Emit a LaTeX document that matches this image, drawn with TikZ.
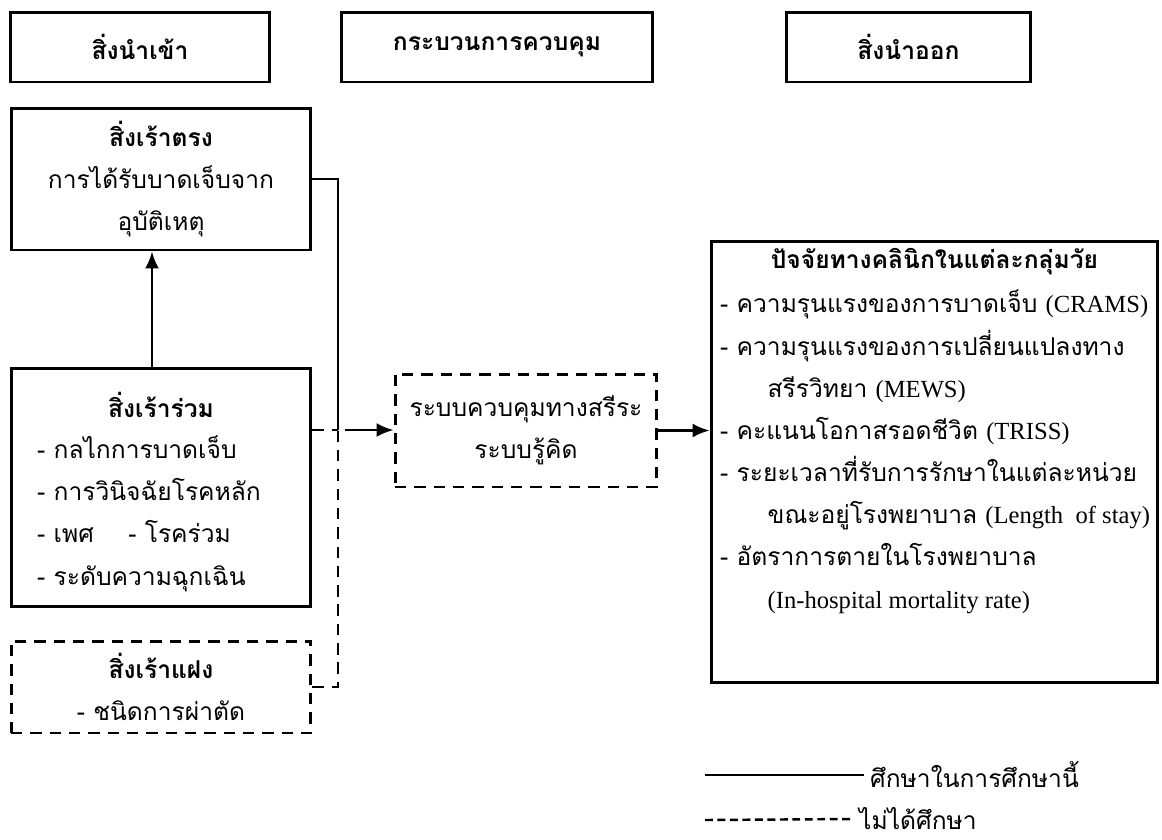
\documentclass[tikz,border=0pt]{standalone}
\usepackage{fontspec}
\setmainfont[Script=Thai]{Loma}
\newfontfamily\latinfont{Liberation Serif}
\usetikzlibrary{arrows.meta}
\tikzset{
  box/.style={draw, line width=1.7pt, inner sep=0pt},
  dbox/.style={box, dash pattern=on 6.5pt off 4.5pt},
  txt/.style={font=\fontsize{14}{24}\selectfont, align=center},
  link/.style={line width=1.4pt},
  dlink/.style={link, dash pattern=on 6.5pt off 4.5pt},
  arr/.style={link, -{Latex[length=3.4mm,width=2.8mm]}},
}

\begin{document}
\begin{tikzpicture}[x=0.02cm, y=-0.02cm]
    \useasboundingbox (0,0) rectangle (1162,839);

    \node[box, txt, minimum width=5.2cm, minimum height=1.4cm] (hin) at (140,47) {\bfseries สิ่งนำเข้า};
    \node[box, txt, minimum width=6.24cm, minimum height=1.4cm] (hproc) at (497,47) {\bfseries กระบวนการควบคุม};
    \node[box, txt, minimum width=4.9cm, minimum height=1.4cm] (hout) at (908.5,47) {\bfseries สิ่งนำออก};

    \node[box, txt, minimum width=6cm, minimum height=2.84cm] (direct) at (161,179) {{\bfseries สิ่งเร้าตรง}\\การได้รับบาดเจ็บจาก\\อุบัติเหตุ};
    \node[box, minimum width=6cm, minimum height=4.78cm] (contrib) at (161,487.5) {};
    \node[txt] (contribt) at (161,405) {\bfseries สิ่งเร้าร่วม};
    \node[txt, align=left, anchor=base west] (contribl) at (31,585) {- กลไกการบาดเจ็บ\\- การวินิจฉัยโรคหลัก\\- เพศ\hspace{1.4em}- โรคร่วม\\- ระดับความฉุกเฉิน};
    \node[dbox, txt, minimum width=6cm, minimum height=1.84cm] (resid) at (161,687) {{\bfseries สิ่งเร้าแฝง}\\- ชนิดการผ่าตัด};

    \node[dbox, txt, minimum width=5.24cm, minimum height=2.26cm] (ctrl) at (526,430.5) {ระบบควบคุมทางสรีระ\\ระบบรู้คิด};

    \node[box, minimum width=8.94cm, minimum height=8.84cm] (outbox) at (934.5,462) {};
    \node[txt] (outt) at (934.5,262) {\bfseries ปัจจัยทางคลินิกในแต่ละกลุ่มวัย};
    \node[txt, align=left, anchor=base west] (outl) at (714,608) {- ความรุนแรงของการบาดเจ็บ {\latinfont(CRAMS)}\\- ความรุนแรงของการเปลี่ยนแปลงทาง\\\hspace*{0.95cm}สรีรวิทยา {\latinfont(MEWS)}\\- คะแนนโอกาสรอดชีวิต {\latinfont(TRISS)}\\- ระยะเวลาที่รับการรักษาในแต่ละหน่วย\\\hspace*{0.95cm}ขณะอยู่โรงพยาบาล {\latinfont(Length\ \ of stay)}\\- อัตราการตายในโรงพยาบาล\\\hspace*{0.95cm}{\latinfont(In-hospital mortality rate)}};

    \coordinate (j) at (338,430);
    \draw[arr] ([xshift=-0.18cm]contrib.north) -- ([xshift=-0.18cm]direct.south);
    \draw[link] (direct.east) -| (j);
    \draw[dlink] (contrib.east |- j) -- (j);
    \draw[dlink] (resid.east) -| (j);
    \draw[arr] ([xshift=0.14cm]j) -- (ctrl.west |- j);
    \draw[arr] (ctrl.east) -- (outbox.west |- ctrl.east);

    \coordinate (ls) at (705,775);
    \coordinate (ld) at (705,820);
    \node[txt, anchor=west] (lsolid) at (864,775) {ศึกษาในการศึกษานี้};
    \node[txt, anchor=west] (ldash) at (853,819) {ไม่ได้ศึกษา};
    \draw[link] (ls) -- (lsolid.west);
    \draw[link, dash pattern=on 4.5pt off 2.6pt] (ld) -- (ldash.west);
\end{tikzpicture}
\end{document}
